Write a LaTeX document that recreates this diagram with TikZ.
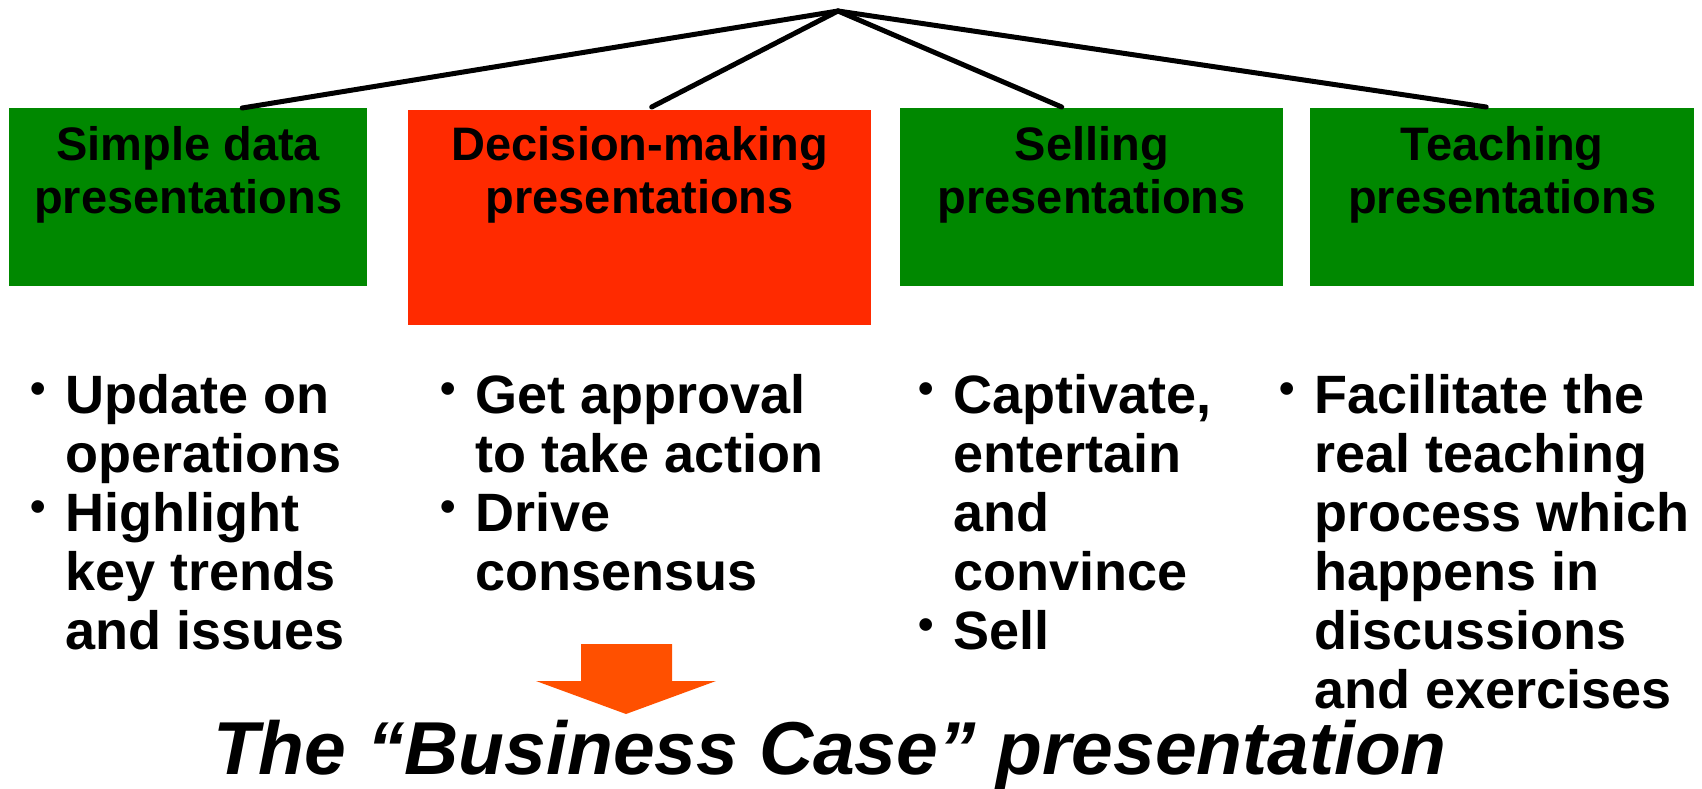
\documentclass[tikz,border=0pt]{standalone}
\usepackage{fontspec}
\setmainfont{Liberation Sans}
\usetikzlibrary{calc}
\definecolor{boxgreen}{RGB}{0,136,0}
\definecolor{boxred}{RGB}{255,42,0}
\definecolor{arroworange}{RGB}{255,80,0}
% small raised bullet hung to the left of the item text
\newcommand{\bul}{\makebox[0pt][r]{\raisebox{10pt}{\fontsize{44}{44}\selectfont •}\hspace{19pt}}}
\begin{document}
\begin{tikzpicture}[x=1pt,y=-1pt,
  catbox/.style={draw=none, inner sep=0pt, anchor=north west},
  cattext/.style={inner sep=0pt, anchor=base, align=center,
    font=\fontsize{47}{53}\selectfont\bfseries},
  itemlist/.style={inner sep=0pt, anchor=base west, align=left,
    font=\fontsize{54}{59}\selectfont\bfseries},
  branch/.style={line width=5pt, black, line cap=round}]
\useasboundingbox (0,0) rectangle (1702,789);

% category boxes
\node[catbox, fill=boxgreen, minimum width=358, minimum height=178] (b1) at (9,108) {};
\node[catbox, fill=boxred, minimum width=463, minimum height=215] (b2) at (408,110) {};
\node[catbox, fill=boxgreen, minimum width=383, minimum height=178] (b3) at (900,108) {};
\node[catbox, fill=boxgreen, minimum width=384, minimum height=178] (b4) at (1310,108) {};

% two-line captions, placed by the baseline of their last line
\node[cattext] (t1) at ($(b1.north)+(0,105)$) {Simple data\\presentations};
\node[cattext] (t2) at ($(b2.north)+(0,103)$) {Decision-making\\presentations};
\node[cattext] (t3) at ($(b3.north)+(0,105)$) {Selling\\presentations};
\node[cattext] (t4) at ($(b4.north)+(0,105)$) {Teaching\\presentations};

% tree branches from the common apex
\coordinate (apex) at (838,11);
\coordinate (e1) at ($(b1.north)+(54,0)$);
\coordinate (e2) at ($(b2.north)+(12,-3)$);
\coordinate (e3) at ($(b3.north)+(-30,-1)$);
\coordinate (e4) at ($(b4.north)+(-16,-1)$);
\draw[branch] (apex) -- (e1);
\draw[branch] (apex) -- (e2);
\draw[branch] (apex) -- (e3);
\draw[branch] (apex) -- (e4);

% bullet lists, placed by the baseline of their last line (first line at 413)
\node[itemlist] (l1) at (65,649) {\bul Update on\\operations\\\bul Highlight\\key trends\\and issues};
\node[itemlist] (l2) at (475,590) {\bul Get approval\\to take action\\\bul Drive\\consensus};
\node[itemlist] (l3) at (953,649) {\bul Captivate,\\entertain\\and\\convince\\\bul Sell};
\node[itemlist] (l4) at (1314,708) {\bul Facilitate the\\real teaching\\process which\\happens in\\discussions\\and exercises};

% down arrow and conclusion
\fill[arroworange] (581,644) -- (672,644) -- (672,681) -- (716,681) -- (626,714)
  -- (536,681) -- (581,681) -- cycle;
\node[inner sep=0pt, anchor=base, font=\fontsize{75}{80}\selectfont\bfseries\itshape]
  (concl) at (830,774) {The “Business Case” presentation};
\end{tikzpicture}
\end{document}
